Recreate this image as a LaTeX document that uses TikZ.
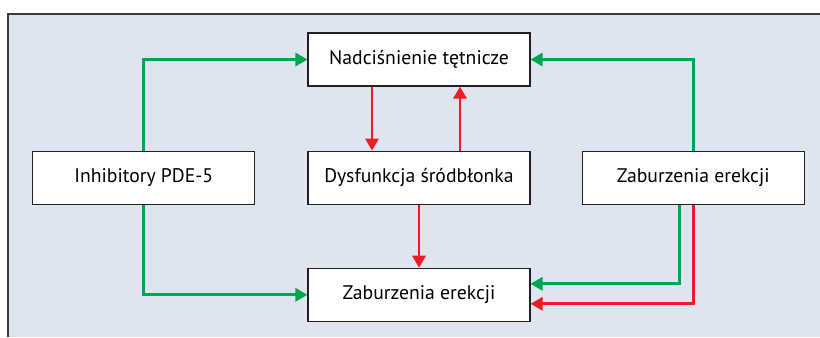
\documentclass[tikz,border=0pt]{standalone}
\usepackage{fontspec}
\setmainfont{PT Sans}
\usetikzlibrary{arrows.meta,positioning}
\definecolor{pfill}{HTML}{DFE5F0}
\definecolor{pframe}{HTML}{3A3A3A}
\definecolor{pgreen}{HTML}{00A651}
\definecolor{pred}{HTML}{ED1C24}
\definecolor{pink}{HTML}{231F20}

\begin{document}
\begin{tikzpicture}[x=0.025cm, y=-0.025cm,
    every node/.style={font=\fontsize{14}{16}\selectfont, align=center},
    box/.style={draw=pink, line width=0.8pt, fill=white,
                minimum width=5.55cm, minimum height=1.325cm, inner sep=0pt},
    garrow/.style={-{Triangle[length=3mm, width=3.3mm]}, line width=1.9pt, pgreen},
    rarrow/.style={-{Triangle[length=3mm, width=3.3mm]}, line width=1.9pt, pred}]
        \useasboundingbox (0,0) rectangle (820,337);
        % background panel
        \fill[pfill] (8,14) rectangle (820,337);
        \draw[pframe, line width=1.2pt] (8,337) -- (8,14) -- (820,14);
        % boxes
        \node[box] (nad) at (419,59.5) {Nadciśnienie tętnicze};
        \node[box, below=1.6cm of nad] (dys) {Dysfunkcja śródbłonka};
        \node[box, left=1.3cm of dys] (inh) {Inhibitory PDE-5};
        \node[box, right=1.275cm of dys] (zr) {Zaburzenia erekcji};
        \node[box, below=1.575cm of dys] (zb) {Zaburzenia erekcji};
        % green connectors
        \draw[garrow] (inh.north) |- (nad.west);
        \draw[garrow] (zr.north) |- (nad.east);
        \draw[garrow] (inh.south) |- (zb.west);
        \draw[garrow] ([xshift=-0.35cm]zr.south) |- ([yshift=0.275cm]zb.east);
        % red connectors
        \draw[rarrow] (zr.south) |- ([yshift=-0.225cm]zb.east);
        \draw[rarrow] ([xshift=-1.175cm]nad.south) -- ([xshift=-1.175cm]dys.north);
        \draw[rarrow] ([xshift=1.025cm]dys.north) -- ([xshift=1.025cm]nad.south);
        \draw[rarrow] (dys.south) -- (zb.north);
      \end{tikzpicture}
\end{document}
